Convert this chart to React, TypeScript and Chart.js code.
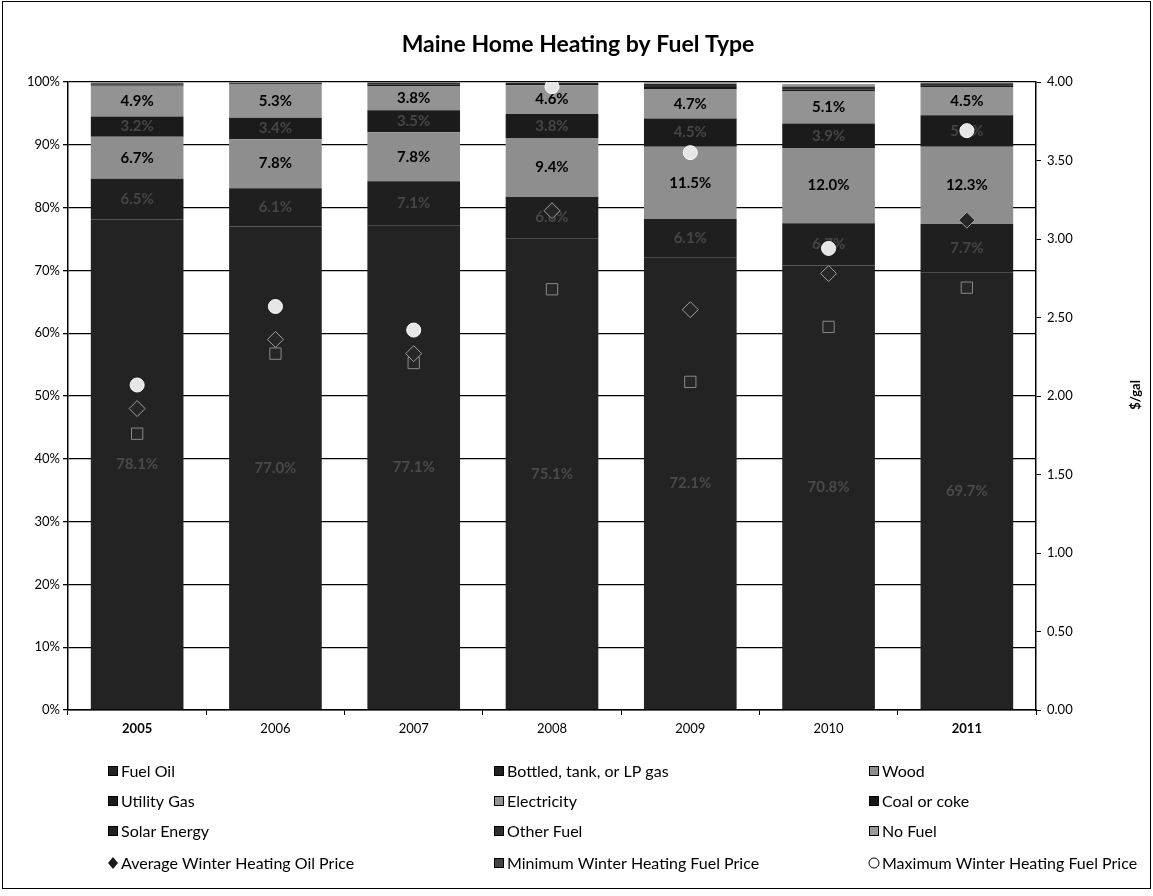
import React, { useEffect, useRef } from "react";
import { Chart, registerables } from "chart.js";

Chart.register(...registerables);

const years = ["2005", "2006", "2007", "2008", "2009", "2010", "2011"];

const fuelOil = [78.1, 77.0, 77.1, 75.1, 72.1, 70.8, 69.7];
const bottledGas = [6.5, 6.1, 7.1, 6.6, 6.1, 6.7, 7.7];
const wood = [6.7, 7.8, 7.8, 9.4, 11.5, 12.0, 12.3];
const utilityGas = [3.2, 3.4, 3.5, 3.8, 4.5, 3.9, 5.0];
const electricity = [4.9, 5.3, 3.8, 4.6, 4.7, 5.1, 4.5];
const coal = [0.2, 0.2, 0.3, 0.2, 0.3, 0.3, 0.3];
const solar = [0.0, 0.0, 0.0, 0.0, 0.0, 0.0, 0.0];
const otherFuel = [0.2, 0.1, 0.3, 0.2, 0.5, 0.5, 0.3];
const noFuel = [0.2, 0.1, 0.1, 0.1, 0.3, 0.4, 0.2];

const avgPrice = [1.92, 2.36, 2.27, 3.18, 2.55, 2.78, 3.12];
const minPrice = [1.76, 2.27, 2.21, 2.68, 2.09, 2.44, 2.69];
const maxPrice = [2.07, 2.57, 2.42, 3.97, 3.55, 2.94, 3.69];

const pctTicks = [0, 10, 20, 30, 40, 50, 60, 70, 80, 90, 100];
const priceTicks = [0, 0.5, 1, 1.5, 2, 2.5, 3, 3.5, 4];

const FONT = "Lato, 'Open Sans', 'DejaVu Sans', sans-serif";

type BarSeries = { label: string; data: number[]; color: string; labelColor: string };

const barSeries: BarSeries[] = [
  { label: "Fuel Oil", data: fuelOil, color: "#232323", labelColor: "#4a4a4a" },
  { label: "Bottled, tank, or LP gas", data: bottledGas, color: "#1f1f1f", labelColor: "#464646" },
  { label: "Wood", data: wood, color: "#8e8e8e", labelColor: "#000000" },
  { label: "Utility Gas", data: utilityGas, color: "#1b1b1b", labelColor: "#464646" },
  { label: "Electricity", data: electricity, color: "#939393", labelColor: "#000000" },
  { label: "Coal or coke", data: coal, color: "#181818", labelColor: "#464646" },
  { label: "Solar Energy", data: solar, color: "#202020", labelColor: "#464646" },
  { label: "Other Fuel", data: otherFuel, color: "#2e2e2e", labelColor: "#464646" },
  { label: "No Fuel", data: noFuel, color: "#9a9a9a", labelColor: "#000000" },
];

const segLabels = {
  id: "segLabels",
  afterDatasetDraw(chart: any, args: any) {
    const ds = chart.data.datasets[args.index];
    if (ds.type !== "bar") return;
    const ctx = chart.ctx;
    ctx.save();
    ctx.font = `bold 15px ${FONT}`;
    ctx.textAlign = "center";
    ctx.textBaseline = "middle";
    ctx.fillStyle = ds.labelColor;
    args.meta.data.forEach((el: any, i: number) => {
      const v = ds.data[i];
      if (v < 3) return;
      const cy = (el.y + el.base) / 2;
      ctx.fillText(v.toFixed(1) + "%", el.x, cy);
    });
    ctx.restore();
  },
};

const extras = {
  id: "extras",
  afterDraw(chart: any) {
    const ctx = chart.ctx;
    ctx.save();
    // Title
    ctx.fillStyle = "#000";
    ctx.font = `bold 23px ${FONT}`;
    ctx.textAlign = "center";
    ctx.textBaseline = "middle";
    ctx.fillText("Maine Home Heating by Fuel Type", 578, 45);

    // Right axis title
    ctx.save();
    ctx.translate(1136, 395);
    ctx.rotate(-Math.PI / 2);
    ctx.font = `bold 13px ${FONT}`;
    ctx.fillText("$/gal", 0, 0);
    ctx.restore();

    // Legend
    const cols = [108, 494, 869];
    const rows = [771, 801, 831, 863];
    ctx.font = `16px ${FONT}`;
    ctx.textAlign = "left";
    ctx.textBaseline = "middle";
    const items: any[] = [];
    barSeries.forEach((s) => items.push({ label: s.label, kind: "box", color: s.color }));
    items.push({ label: "Average Winter Heating Oil Price", kind: "diamond" });
    items.push({ label: "Minimum Winter Heating Fuel Price", kind: "square" });
    items.push({ label: "Maximum Winter Heating Fuel Price", kind: "circle" });
    items.forEach((it, i) => {
      const x = cols[i % 3];
      const y = rows[Math.floor(i / 3)];
      if (it.kind === "box") {
        ctx.fillStyle = it.color;
        ctx.fillRect(x, y - 5, 10, 10);
        ctx.strokeStyle = "#000";
        ctx.lineWidth = 1;
        ctx.strokeRect(x + 0.5, y - 4.5, 9, 9);
      } else if (it.kind === "diamond") {
        ctx.beginPath();
        ctx.moveTo(x + 5, y - 6);
        ctx.lineTo(x + 10, y);
        ctx.lineTo(x + 5, y + 6);
        ctx.lineTo(x, y);
        ctx.closePath();
        ctx.fillStyle = "#1a1a1a";
        ctx.fill();
      } else if (it.kind === "square") {
        ctx.fillStyle = "#444";
        ctx.fillRect(x, y - 5, 10, 10);
        ctx.strokeStyle = "#000";
        ctx.strokeRect(x + 0.5, y - 4.5, 9, 9);
      } else {
        ctx.beginPath();
        ctx.arc(x + 5, y, 5, 0, Math.PI * 2);
        ctx.fillStyle = "#fff";
        ctx.fill();
        ctx.strokeStyle = "#000";
        ctx.lineWidth = 1;
        ctx.stroke();
      }
      ctx.fillStyle = "#000";
      ctx.fillText(it.label, x + 13, y + 1);
    });
    ctx.restore();
  },
};

export default function App() {
  const ref = useRef<HTMLCanvasElement | null>(null);

  useEffect(() => {
    if (!ref.current) return;
    const datasets: any[] = barSeries.map((s) => ({
      type: "bar",
      label: s.label,
      data: s.data,
      backgroundColor: s.color,
      borderWidth: 0,
      labelColor: s.labelColor,
      yAxisID: "y",
      stack: "fuel",
      order: 1,
      barPercentage: 0.67,
      categoryPercentage: 1,
    }));
    datasets.push({
      type: "line",
      label: "Average Winter Heating Oil Price",
      data: avgPrice,
      yAxisID: "y1",
      showLine: false,
      pointStyle: "rectRot",
      pointRadius: 8,
      pointBackgroundColor: "#262626",
      pointBorderColor: "#a0a0a0",
      pointBorderWidth: 1,
      order: 0,
    });
    datasets.push({
      type: "line",
      label: "Minimum Winter Heating Fuel Price",
      data: minPrice,
      yAxisID: "y1",
      showLine: false,
      pointStyle: "rect",
      pointRadius: 8,
      pointBackgroundColor: "#262626",
      pointBorderColor: "#8a8a8a",
      pointBorderWidth: 1,
      order: 0,
    });
    datasets.push({
      type: "line",
      label: "Maximum Winter Heating Fuel Price",
      data: maxPrice,
      yAxisID: "y1",
      showLine: false,
      pointStyle: "circle",
      pointRadius: 7,
      pointBackgroundColor: "#e6e6e6",
      pointBorderColor: "#ffffff",
      pointBorderWidth: 1,
      order: 0,
    });

    const chart = new Chart(ref.current, {
      type: "bar",
      data: { labels: years, datasets },
      options: {
        responsive: false,
        animation: false,
        devicePixelRatio: 1,
        layout: { padding: { top: 82, bottom: 146, left: 0, right: 0 } },
        plugins: {
          legend: { display: false },
          title: { display: false },
          tooltip: { enabled: false },
        },
        scales: {
          x: {
            stacked: true,
            grid: { display: true, drawOnChartArea: false, color: "#000", tickLength: 5, offset: true },
            border: { color: "#000", width: 1.5 },
            ticks: {
              color: "#000",
              padding: 6,
              font: (c: any) => ({
                family: FONT,
                size: 13,
                weight: c.index === 0 || c.index === 6 ? "bold" : "normal",
              }),
            },
            afterFit: (s: any) => {
              s.height = 40;
            },
          },
          y: {
            stacked: true,
            min: pctTicks[0],
            max: pctTicks[pctTicks.length - 1],
            afterBuildTicks: (s: any) => {
              s.ticks = pctTicks.map((v) => ({ value: v }));
            },
            ticks: {
              color: "#000",
              font: { family: FONT, size: 13 },
              callback: (v: any) => v + "%",
            },
            grid: { color: "#000", lineWidth: 1.3, tickLength: 5 },
            border: { color: "#000", width: 1.5 },
            afterFit: (s: any) => {
              s.width = 68;
            },
          },
          y1: {
            position: "right",
            min: priceTicks[0],
            max: priceTicks[priceTicks.length - 1],
            afterBuildTicks: (s: any) => {
              s.ticks = priceTicks.map((v) => ({ value: v }));
            },
            ticks: {
              color: "#000",
              font: { family: FONT, size: 13 },
              padding: 6,
              callback: (v: any) => Number(v).toFixed(2),
            },
            grid: { drawOnChartArea: false, color: "#000", tickLength: 5 },
            border: { color: "#000", width: 1.5 },
            afterFit: (s: any) => {
              s.width = 117;
            },
          },
        },
      } as any,
      plugins: [segLabels, extras],
    });
    return () => chart.destroy();
  }, []);

  return (
    <div style={{ position: "absolute", left: 0, top: 0, width: 1153, height: 896, background: "#fff" }}>
      <canvas ref={ref} width={1153} height={896} style={{ display: "block", width: 1153, height: 896 }} />
      <div
        style={{
          position: "absolute",
          left: 2,
          top: 1,
          width: 1147,
          height: 886,
          border: "1px solid #000",
          pointerEvents: "none",
        }}
      />
    </div>
  );
}
